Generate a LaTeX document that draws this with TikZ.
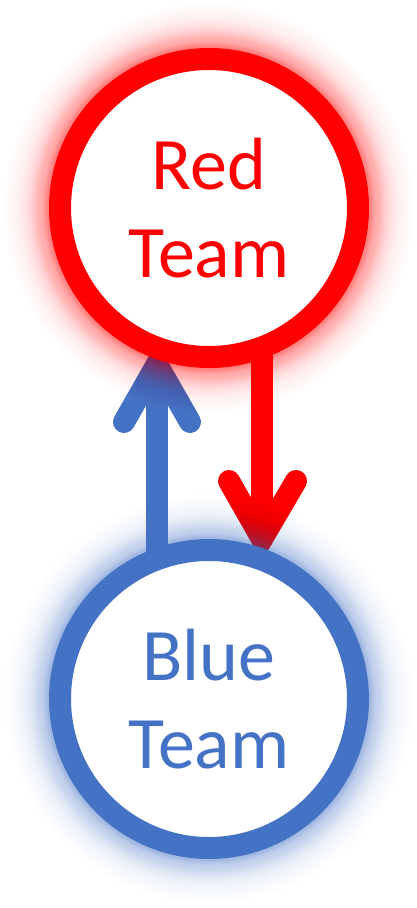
\documentclass[tikz,border=0pt]{standalone}
\usepackage{fontspec}
\setmainfont{Carlito}
\usetikzlibrary{calc}
\definecolor{tred}{HTML}{FF0000}
\definecolor{tblue}{HTML}{4472C4}
\pgfdeclarelayer{arrowlayer}
\pgfdeclarelayer{glowlayer}
\pgfsetlayers{arrowlayer,glowlayer,main}
\tikzset{
  team/.style={circle, draw=#1, fill=white, line width=22pt, minimum size=298pt,
    inner sep=0pt, text=#1, align=center, font=\fontsize{74}{88}\selectfont},
  conn/.style={draw=#1, line width=22pt, line cap=round, line join=miter},
  glowring/.style={draw=#1}
}
\begin{document}
\begin{tikzpicture}[x=1pt,y=-1pt]
\useasboundingbox (0,0) rectangle (416,908);
\node[team=tred] (red) at (209,208) {Red\\Team};
\node[team=tblue] (blue) at (209,699) {Blue\\Team};
% connector points
\coordinate (btip) at ($(red.center)+(-52,156)$);
\coordinate (bl) at ($(red.center)+(-85,214)$);
\coordinate (br) at ($(red.center)+(-19,214)$);
\coordinate (bstart) at ($(blue.center)+(-52,-139)$);
\coordinate (rtip) at ($(blue.center)+(53,-160)$);
\coordinate (rl) at ($(blue.center)+(20,-218)$);
\coordinate (rr) at ($(blue.center)+(87,-218)$);
\coordinate (rstart) at ($(red.center)+(53,137)$);
\begin{pgfonlayer}{arrowlayer}
  \draw[conn=tblue] (bstart) -- (btip);
  \draw[conn=tblue] (bl) -- (btip) -- (br);
  \draw[conn=tred] (rstart) -- (rtip);
  \draw[conn=tred] (rl) -- (rtip) -- (rr);
\end{pgfonlayer}
\begin{pgfonlayer}{glowlayer}
  \foreach \k in {1,...,45}{
    \pgfmathsetmacro\op{0.05*exp(-\k/14)}
    \draw[glowring=tred, opacity=\op, line width=22pt+2pt*\k] (red.center) circle[radius=149pt];
    \draw[glowring=tblue, opacity=\op, line width=22pt+2pt*\k] (blue.center) circle[radius=149pt];
  }
\end{pgfonlayer}
\end{tikzpicture}
\end{document}
